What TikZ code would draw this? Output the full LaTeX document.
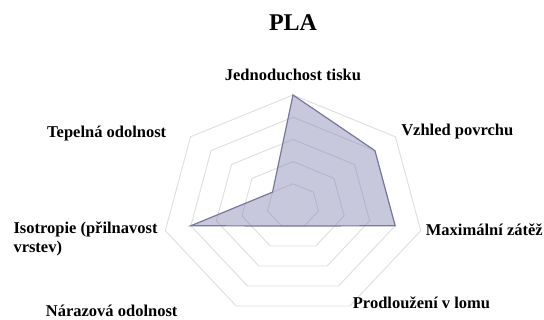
\documentclass[tikz,border=0pt]{standalone}
\usepackage{fontspec}
\setmainfont{Liberation Serif}
\usetikzlibrary{positioning}

\definecolor{ringgray}{RGB}{222,222,222}
\definecolor{plafill}{RGB}{130,132,178}
\definecolor{plaedge}{RGB}{118,120,160}

\begin{document}
\begin{tikzpicture}[
    x=1pt, y=-1pt,
    ringline/.style={draw=ringgray, line width=0.9pt, line join=miter},
    datafill/.style={draw=plaedge, fill=plafill, fill opacity=0.45,
                     draw opacity=1, line width=1.2pt, line join=miter},
    axislabel/.style={inner sep=0pt, font=\bfseries\fontsize{16.5}{19}\selectfont},
    titlelabel/.style={inner sep=0pt, font=\bfseries\fontsize{24}{28}\selectfont}
]
\useasboundingbox (0,0) rectangle (544,320);

% Grid rings
\begin{scope}[shift={(293,206)}]
\foreach \k in {1,...,5}
  \draw[ringline] ({26.2*\k*cos(90)},{-22.2*\k*sin(90)})
    \foreach \a in {38.571,-12.857,-64.286,-115.714,-167.143,141.429}
      { -- ({26.2*\k*cos(\a)},{-22.2*\k*sin(\a)}) } -- cycle;

% Data points
\foreach \v [count=\i] in {5,4,4,1,1,4,1}
  \coordinate (d\i) at ({26.2*\v*cos(90-(\i-1)*360/7)},{-22.2*\v*sin(90-(\i-1)*360/7)});

\draw[datafill] (d1) -- (d2) -- (d3) -- (d4) -- (d5) -- (d6) -- (d7) -- cycle;
\end{scope}

% Title
\node[titlelabel, anchor=base] (title) at (293,31) {PLA};

% Axis labels
\node[axislabel, anchor=base] (lblPrint) at (293,81) {Jednoduchost tisku};
\node[axislabel, anchor=base] (lblSurface) at (457.3,136) {Vzhled povrchu};
\node[axislabel, anchor=base west] (lblLoad) at (425.7,236) {Maximální zátěž};
\node[axislabel, anchor=base] (lblElong) at (421.5,309) {Prodloužení v lomu};
\node[axislabel, anchor=base] (lblImpact) at (111.7,317) {Nárazová odolnost};
\node[axislabel, anchor=north west, align=left] (lblIso) at (13.3,221.5) {Isotropie (přilnavost\\vrstev)};
\node[axislabel, anchor=base] (lblHeat) at (106.7,137.5) {Tepelná odolnost};

\end{tikzpicture}
\end{document}
